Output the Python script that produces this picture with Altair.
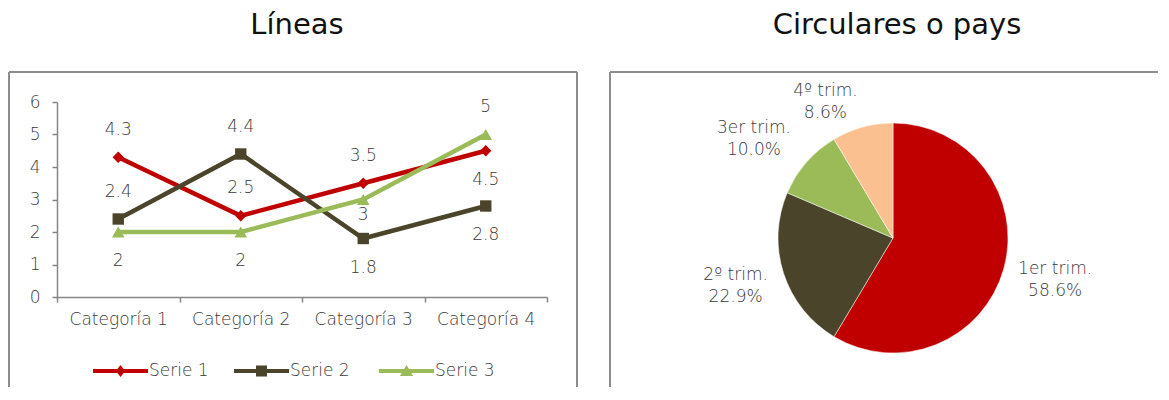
import math
import altair as alt
import pandas as pd

# ---------------- datos ----------------
CATEGORIAS = ["Categoría 1", "Categoría 2", "Categoría 3", "Categoría 4"]
SERIES = ["Serie 1", "Serie 2", "Serie 3"]
SERIE_1 = [4.3, 2.5, 3.5, 4.5]
SERIE_2 = [2.4, 4.4, 1.8, 2.8]
SERIE_3 = [2, 2, 3, 5]
Y_TICKS = [0, 1, 2, 3, 4, 5, 6]

TRIMESTRES = ["1er trim.", "2º trim.", "3er trim.", "4º trim."]
VENTAS = [8.2, 3.2, 1.4, 1.2]

# ---------------- estilos ----------------
FONT = "DejaVu Sans"
WEIGHT = 300
FS = 17
TEXT_COLOR = "#3a3a3a"
TITLE_COLOR = "#111111"
FRAME_COLOR = "#8c8c8c"
AXIS_COLOR = "#868686"
COLORES_LINEAS = ["#C00000", "#4A452A", "#9BBB59"]
COLORES_PAY = ["#C00000", "#4A452A", "#9BBB59", "#FAC090"]
MARCADORES = ["diamond", "square", "triangle-up"]
TAM_MARCADORES = [130, 130, 160]
# desplazamiento vertical de las etiquetas de datos (en unidades del eje)
DESPLAZ = {
    "Serie 1": [0.84, 0.84, 0.84, -0.9],
    "Serie 2": [0.84, 0.84, -0.9, -0.9],
    "Serie 3": [-0.9, -0.9, -0.48, 0.84],
}
# colocación de las etiquetas del pay (ajuste angular en grados, radio en px)
AJUSTE_ANGULO = [-1.5, 1.7, -5.1, -10.6]
RADIO_ETIQUETA = [167, 164, 172, 154]

# símbolos de leyenda: línea + marcador (unidad = sqrt(size)/2 = 11 px)
LINEA = "M-2.5,-0.19H2.5V0.19H-2.5Z"
SIMBOLOS_LEYENDA = [
    LINEA + "M0,-0.55L0.42,0L0,0.55L-0.42,0Z",
    LINEA + "M-0.5,-0.5H0.5V0.5H-0.5Z",
    LINEA + "M0,-0.55L0.6,0.45L-0.6,0.45Z",
]
LEYENDA_X = [52.5, 193.5, 338.5]

# ---------------- tablas ----------------
filas = []
for serie, valores in zip(SERIES, [SERIE_1, SERIE_2, SERIE_3]):
    for i, (cat, v) in enumerate(zip(CATEGORIAS, valores)):
        filas.append({
            "serie": serie,
            "categoria": cat,
            "valor": v,
            "etiqueta": f"{v:g}",
            "desplaz": DESPLAZ[serie][i],
        })
df_lineas = pd.DataFrame(filas)

df_pay = pd.DataFrame({
    "trimestre": TRIMESTRES,
    "valor": VENTAS,
    "orden": list(range(len(TRIMESTRES))),
    "ajuste": [math.radians(a) for a in AJUSTE_ANGULO],
    "radio": RADIO_ETIQUETA,
})

# ---------------- gráfico de líneas ----------------
base = alt.Chart(df_lineas)

x_enc = alt.X(
    "categoria:N",
    sort=CATEGORIAS,
    scale=alt.Scale(type="band", paddingInner=0, paddingOuter=0),
    axis=alt.Axis(
        title=None, labelAngle=0, tickBand="extent", tickSize=5,
        labelPadding=9, domainColor=AXIS_COLOR, tickColor=AXIS_COLOR,
        domainWidth=1.5, tickWidth=1.5, grid=False,
    ),
)
y_axis = alt.Axis(
    title=None, values=Y_TICKS, tickCount=7, grid=False, tickSize=5, labelPadding=12,
    labelOverlap=False, domainColor=AXIS_COLOR, tickColor=AXIS_COLOR,
    domainWidth=1.5, tickWidth=1.5,
)
y_scale = alt.Scale(domain=[0, 6], nice=False)
y_enc = alt.Y("valor:Q", scale=y_scale, axis=y_axis)

# una línea, sus marcadores y su entrada de leyenda por serie
capas_series = []
leyendas = []
for s, c, m, t, simbolo, lx in zip(SERIES, COLORES_LINEAS, MARCADORES, TAM_MARCADORES,
                                    SIMBOLOS_LEYENDA, LEYENDA_X):
    sub = base.transform_filter(alt.datum.serie == s)
    capas_series.append(sub.mark_line(strokeWidth=4.5, color=c).encode(x=x_enc, y=y_enc))
    capas_series.append(
        sub.mark_point(shape=m, filled=True, opacity=1, size=t, color=c).encode(x=x_enc, y=y_enc)
    )
    leyendas.append(
        sub.mark_point(filled=True, opacity=0, size=10).encode(
            x=x_enc, y=y_enc,
            color=alt.Color(
                "serie:N",
                scale=alt.Scale(domain=[s], range=[c]),
                legend=alt.Legend(
                    orient="none", legendX=lx, legendY=258, direction="horizontal",
                    title=None, symbolType=simbolo, symbolSize=484, symbolStrokeWidth=0,
                    symbolOpacity=1, labelFontSize=FS, labelColor=TEXT_COLOR,
                    labelFont=FONT, labelFontWeight=WEIGHT, labelOffset=17.5, padding=0,
                ),
            ),
        )
    )

etiquetas = base.transform_calculate(
    pos="datum.valor + datum.desplaz"
).mark_text(fontSize=FS, color=TEXT_COLOR, font=FONT, fontWeight=WEIGHT, baseline="middle").encode(
    x=x_enc,
    y=alt.Y("pos:Q", scale=y_scale, axis=y_axis),
    text="etiqueta:N",
)

uno = alt.Data(values=[{}])
regla = dict(stroke=FRAME_COLOR, strokeWidth=2)
marco_lineas = [
    alt.Chart(uno).mark_rule(**regla).encode(x=alt.value(-48), x2=alt.value(520), y=alt.value(-30)),
    alt.Chart(uno).mark_rule(**regla).encode(x=alt.value(-48), y=alt.value(-30), y2=alt.value(285)),
    alt.Chart(uno).mark_rule(**regla).encode(x=alt.value(520), y=alt.value(-30), y2=alt.value(285)),
]

titulo = dict(fontSize=29, font=FONT, fontWeight="normal", color=TITLE_COLOR,
              anchor="middle", offset=31)

grafico_lineas = alt.layer(*capas_series, *leyendas, etiquetas, *marco_lineas).resolve_scale(
    color="independent"
).properties(
    width=490, height=195,
    title=alt.TitleParams("Líneas", dx=-5, **titulo),
)

# ---------------- gráfico circular ----------------
pay_base = alt.Chart(df_pay)

CENTRO_X, CENTRO_Y = 283, 136

arcos = pay_base.mark_arc(outerRadius=115, stroke="white", strokeWidth=0.5).encode(
    theta=alt.Theta("valor:Q", stack=True),
    color=alt.Color("trimestre:N", scale=alt.Scale(domain=TRIMESTRES, range=COLORES_PAY), legend=None),
    order=alt.Order("orden:Q"),
    x=alt.value(CENTRO_X), y=alt.value(CENTRO_Y),
)
textos = pay_base.transform_joinaggregate(
    total="sum(valor)"
).transform_window(
    acumulado="sum(valor)", sort=[alt.SortField("orden")]
).transform_calculate(
    texto="datum.trimestre + '\\n' + format(datum.valor / datum.total, '.1%')",
    angulo="(datum.acumulado - datum.valor / 2) / datum.total * 2 * PI + datum.ajuste",
).mark_text(
    fontSize=FS, font=FONT, fontWeight=WEIGHT, color=TEXT_COLOR,
    lineBreak="\n", lineHeight=22, align="center", baseline="middle", dy=-9,
).encode(
    theta=alt.Theta("angulo:Q", scale=None),
    radius=alt.Radius("radio:Q", scale=None),
    text="texto:N",
    x=alt.value(CENTRO_X), y=alt.value(CENTRO_Y),
)

marco_pay = [
    alt.Chart(uno).mark_rule(**regla).encode(x=alt.value(0), x2=alt.value(548), y=alt.value(-30)),
    alt.Chart(uno).mark_rule(**regla).encode(x=alt.value(0), y=alt.value(-30), y2=alt.value(285)),
]

grafico_pay = alt.layer(arcos, textos, *marco_pay).properties(
    width=548, height=272,
    title=alt.TitleParams("Circulares o pays", dx=13, **titulo),
)

chart = alt.hconcat(grafico_lineas, grafico_pay, spacing=31).resolve_scale(
    color="independent"
).properties(
    padding={"left": 0, "top": 3, "right": 0, "bottom": 0},
).configure_view(stroke=None).configure_axis(
    labelFont=FONT, labelFontSize=FS, labelColor=TEXT_COLOR, labelFontWeight=WEIGHT,
).configure_title(font=FONT)

chart.save("out.html", embed_options={"renderer": "svg", "actions": False})
